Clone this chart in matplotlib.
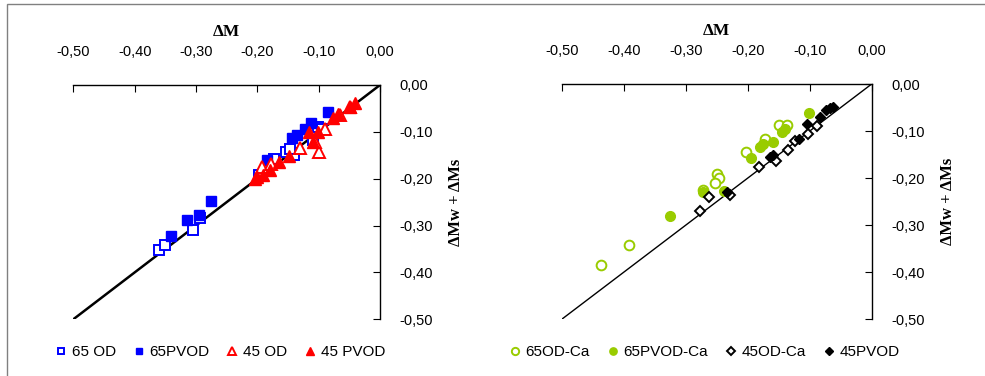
import matplotlib.pyplot as plt
from matplotlib.patches import Rectangle
from matplotlib.ticker import FuncFormatter

# left panel: dM (x) vs dMw + dMs (y)
od65_x = [-0.360, -0.351, -0.305, -0.293, -0.197, -0.173, -0.154, -0.141, -0.147, -0.109, -0.101, -0.095]
od65_y = [-0.353, -0.341, -0.310, -0.284, -0.191, -0.157, -0.143, -0.150, -0.136, -0.118, -0.089, -0.093]
pvod65_x = [-0.085, -0.113, -0.122, -0.136, -0.144, -0.184, -0.276, -0.295, -0.314, -0.341]
pvod65_y = [-0.057, -0.082, -0.093, -0.107, -0.114, -0.161, -0.248, -0.277, -0.288, -0.323]
od45_x = [-0.0995, -0.130, -0.090, -0.065, -0.049, -0.193, -0.177, -0.106]
od45_y = [-0.144, -0.134, -0.093, -0.064, -0.046, -0.175, -0.168, -0.121]
pvod45_x = [-0.204, -0.201, -0.190, -0.179, -0.164, -0.148, -0.116, -0.109, -0.101, -0.076, -0.068, -0.049, -0.041]
pvod45_y = [-0.201, -0.196, -0.191, -0.182, -0.164, -0.152, -0.101, -0.121, -0.101, -0.071, -0.061, -0.046, -0.039]

# right panel
odca65_x = [-0.437, -0.392, -0.250, -0.246, -0.252, -0.272, -0.202, -0.172, -0.149, -0.137]
odca65_y = [-0.385, -0.342, -0.192, -0.199, -0.210, -0.226, -0.144, -0.116, -0.087, -0.087]
pvodca65_x = [-0.325, -0.272, -0.239, -0.195, -0.180, -0.176, -0.160, -0.144, -0.140, -0.101]
pvodca65_y = [-0.281, -0.229, -0.227, -0.157, -0.133, -0.128, -0.123, -0.101, -0.096, -0.062]
odca45_x = [-0.277, -0.262, -0.2285, -0.181, -0.155, -0.135, -0.123, -0.102, -0.089]
odca45_y = [-0.270, -0.240, -0.235, -0.176, -0.164, -0.140, -0.121, -0.106, -0.089]
pvod45b_x = [-0.234, -0.159, -0.164, -0.118, -0.105, -0.083, -0.073, -0.062, -0.068]
pvod45b_y = [-0.229, -0.151, -0.156, -0.116, -0.085, -0.071, -0.055, -0.048, -0.052]

ticks = [-0.5, -0.4, -0.3, -0.2, -0.1, 0.0]
fmt = FuncFormatter(lambda v, p: f"{v + 0.0:.2f}".replace(".", ","))

plt.rcParams["font.family"] = ["Liberation Sans", "DejaVu Sans"]

fig = plt.figure(figsize=(9.85, 3.76), dpi=100)
fig.patches.append(Rectangle((7 / 985, -0.05), 1.1, 1.05 - 4 / 376, transform=fig.transFigure,
                             fill=False, edgecolor="#808080", lw=1))

ax1 = fig.add_axes([73.3 / 985, 1 - 319.3 / 376, 306.7 / 985, 234.3 / 376])
ax2 = fig.add_axes([561.7 / 985, 1 - 319.3 / 376, 310 / 985, 235.3 / 376])


def setup(ax, lw_line):
    ax.plot([-0.5, 0], [-0.5, 0], color="black", lw=lw_line, zorder=1)
    ax.set_xlim(-0.5, 0)
    ax.set_ylim(-0.5, 0)
    ax.set_xticks(ticks)
    ax.set_yticks(ticks)
    ax.xaxis.set_major_formatter(fmt)
    ax.yaxis.set_major_formatter(fmt)
    ax.xaxis.tick_top()
    ax.yaxis.tick_right()
    ax.xaxis.set_label_position("top")
    ax.yaxis.set_label_position("right")
    for s in ["bottom", "left"]:
        ax.spines[s].set_visible(False)
    for s in ["top", "right"]:
        ax.spines[s].set_linewidth(1)
    ax.tick_params(axis="x", direction="in", length=5, pad=19, labelsize=10.5)
    ax.tick_params(axis="y", direction="in", length=5, pad=14, labelsize=10.5)
    ax.set_xlabel("\u0394M", fontfamily="Liberation Serif", fontweight="bold", fontsize=12.5, labelpad=6)
    ax.set_ylabel("\u0394Mw + \u0394Ms", fontfamily="Liberation Serif", fontweight="bold",
                  fontsize=12, labelpad=11)


setup(ax1, 1.8)
setup(ax2, 1.0)

blue = "#0000FF"
red = "#FF0000"
green = "#99CC00"

ax1.plot(od65_x, od65_y, "s", ms=6.5, mfc="white", mec=blue, mew=1.4, ls="none", label="65 OD")
ax1.plot(pvod65_x, pvod65_y, "s", ms=6.5, mfc=blue, mec=blue, ls="none", label="65PVOD")
ax1.plot(od45_x, od45_y, "^", ms=8, mfc="white", mec=red, mew=1.4, ls="none", label="45 OD")
ax1.plot(pvod45_x, pvod45_y, "^", ms=8, mfc=red, mec=red, ls="none", label="45 PVOD")

ax2.plot(odca65_x, odca65_y, "o", ms=7, mfc="white", mec=green, mew=1.4, ls="none", label="65OD-Ca")
ax2.plot(pvodca65_x, pvodca65_y, "o", ms=7, mfc=green, mec=green, ls="none", label="65PVOD-Ca")
ax2.plot(odca45_x, odca45_y, "D", ms=5.5, mfc="white", mec="black", mew=1.4, ls="none", label="45OD-Ca")
ax2.plot(pvod45b_x, pvod45b_y, "D", ms=5.5, mfc="black", mec="black", ls="none", label="45PVOD")

for ax, cx in [(ax1, 220 / 985), (ax2, 704 / 985)]:
    leg = ax.legend(loc="center", bbox_to_anchor=(cx, 1 - 352 / 376), bbox_transform=fig.transFigure,
                    ncol=4, frameon=False, fontsize=11, handlelength=0.8, handletextpad=0.3,
                    columnspacing=1.1, markerscale=0.75)

fig.savefig("out.png", dpi=100)
